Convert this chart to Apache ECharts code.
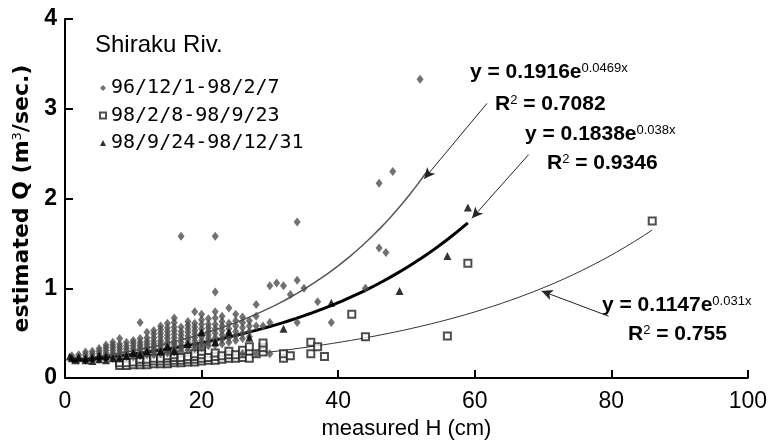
<!DOCTYPE html>
<html>
<head>
<meta charset="utf-8">
<script src="https://cdn.jsdelivr.net/npm/echarts@6/dist/echarts.min.js"></script>
<style>html,body{margin:0;padding:0;background:#fff}#c{width:770px;height:445px}</style>
</head>
<body>
<div id="c"></div>
<script>
// ---- data: [measured H (cm), estimated Q (m3/sec)] ----
const seriesNames = ['96/12/1-98/2/7', '98/2/8-98/9/23', '98/9/24-98/12/31'];
const xTicks = [0, 20, 40, 60, 80, 100];
const yTicks = [0, 1, 2, 3, 4];

const diamondPts = [
  [1,0.22],[1,0.25],[2,0.2],[2,0.23],[2,0.26],[3,0.2],[3,0.23],[3,0.26],[3,0.29],
  [4,0.21],[4,0.24],[4,0.27],[4,0.3],[5,0.21],[5,0.24],[5,0.27],[5,0.3],[5,0.33],
  [6,0.22],[6,0.25],[6,0.28],[6,0.31],[6,0.34],[6,0.37],
  [7,0.22],[7,0.25],[7,0.28],[7,0.31],[7,0.34],[7,0.37],[7,0.4],
  [8,0.23],[8,0.26],[8,0.29],[8,0.32],[8,0.35],[8,0.38],[8,0.44],
  [9,0.24],[9,0.27],[9,0.3],[9,0.33],[9,0.36],[9,0.4],
  [10,0.24],[10,0.27],[10,0.3],[10,0.33],[10,0.36],[10,0.39],[10,0.42],
  [11,0.25],[11,0.28],[11,0.31],[11,0.34],[11,0.37],[11,0.4],[11,0.44],[11,0.62],
  [12,0.26],[12,0.29],[12,0.32],[12,0.35],[12,0.38],[12,0.41],[12,0.45],[12,0.51],
  [13,0.26],[13,0.29],[13,0.32],[13,0.35],[13,0.38],[13,0.41],[13,0.45],[13,0.49],[13,0.53],
  [14,0.27],[14,0.3],[14,0.33],[14,0.36],[14,0.39],[14,0.42],[14,0.46],[14,0.5],[14,0.54],[14,0.58],
  [15,0.28],[15,0.31],[15,0.34],[15,0.37],[15,0.4],[15,0.44],[15,0.48],[15,0.52],[15,0.56],[15,0.61],
  [16,0.29],[16,0.32],[16,0.35],[16,0.38],[16,0.41],[16,0.45],[16,0.49],[16,0.53],[16,0.57],[16,0.62],[16,0.67],
  [17,0.3],[17,0.33],[17,0.36],[17,0.4],[17,0.44],[17,0.48],[17,0.52],[17,0.57],[17,1.58],
  [18,0.31],[18,0.35],[18,0.39],[18,0.43],[18,0.47],[18,0.51],[18,0.55],[18,0.59],[18,0.63],
  [19,0.33],[19,0.37],[19,0.41],[19,0.45],[19,0.49],[19,0.53],[19,0.57],[19,0.61],[19,0.74],
  [20,0.34],[20,0.38],[20,0.42],[20,0.46],[20,0.5],[20,0.55],[20,0.6],[20,0.65],[20,0.71],
  [21,0.36],[21,0.4],[21,0.44],[21,0.48],[21,0.52],[21,0.56],[21,0.6],[21,0.66],
  [22,0.37],[22,0.41],[22,0.45],[22,0.5],[22,0.55],[22,0.6],[22,0.67],[22,0.74],[22,0.96],[22,1.58],
  [23,0.38],[23,0.43],[23,0.48],[23,0.53],[23,0.58],[23,0.63],[23,0.69],
  [24,0.4],[24,0.45],[24,0.5],[24,0.55],[24,0.61],[24,0.78],
  [25,0.42],[25,0.47],[25,0.52],[25,0.58],[25,0.64],[25,0.71],
  [26,0.27],[26,0.44],[26,0.5],[26,0.56],[26,0.62],[26,0.68],
  [27,0.46],[27,0.52],[27,0.58],[27,0.64],
  [28,0.27],[28,0.58],[28,0.69],[28,0.82],[29,0.58],
  [30,0.27],[30,0.62],[30,1.03],[31,1.06],[32,1.03],[33,0.93],
  [34,0.62],[34,1.09],[34,1.74],[35,1.0],[37,0.85],[39,0.62],
  [44,1.0],[46,2.17],[46,1.45],[47,1.4],[48,2.3],[52,3.33]
];

const squarePts = [
  [8,0.14],[8,0.17],[9,0.14],[9,0.17],[10,0.15],[10,0.18],[11,0.15],[11,0.18],[11,0.21],
  [12,0.15],[12,0.18],[12,0.21],[13,0.16],[13,0.19],[13,0.22],[14,0.16],[14,0.19],[14,0.22],
  [15,0.16],[15,0.19],[15,0.22],[15,0.25],[16,0.17],[16,0.2],[16,0.23],[16,0.26],
  [17,0.17],[17,0.2],[17,0.23],[18,0.18],[18,0.21],[18,0.24],
  [19,0.18],[19,0.21],[19,0.24],[19,0.27],[20,0.19],[20,0.22],[20,0.26],[20,0.3],[20,0.35],
  [21,0.2],[21,0.23],[22,0.2],[22,0.24],[22,0.28],[23,0.21],[23,0.25],
  [24,0.22],[24,0.26],[24,0.3],[25,0.22],[25,0.26],[26,0.23],[26,0.27],[26,0.31],
  [27,0.22],[27,0.35],[28,0.27],[29,0.29],[29,0.34],[29,0.39],
  [32,0.22],[32,0.27],[33,0.25],[36,0.27],[36,0.4],[37,0.35],[38,0.24],
  [42,0.71],[44,0.46],[56,0.47],[59,1.28],[86,1.75]
];

const trianglePts = [
  [0.7,0.24],[1,0.22],[1.5,0.2],[2,0.23],[3,0.2],[3,0.22],[4,0.19],[4,0.23],[5,0.21],[5,0.25],
  [6,0.2],[6,0.24],[7,0.22],[8,0.22],[9,0.25],[10,0.28],[11,0.26],[12,0.3],[14,0.3],[15,0.35],
  [16,0.3],[18,0.38],[20,0.51],[22,0.4],[24,0.51],[27,0.45],[32,0.55],[39,0.84],
  [49,0.97],[56,1.36],[59,1.9]
];

// fitted trend lines shown in the chart: y = a * exp(b * x) over [from, to]
const fitA = [0.1916, 0.1147, 0.1838];
const fitB = [0.0469, 0.031, 0.038];
const fitRange = [[1, 53], [8, 86], [1, 59]];
const fitR2 = ['0.7082', '0.755', '0.9346'];

// callout arrows (data coordinates): [fromH, fromQ, toH, toQ]
const arrows = [[61.8, 3.06, 52.6, 2.22], [67.9, 2.49, 59.6, 1.78], [79.6, 0.69, 69.8, 0.97]];

function fitCurve(i) {
  const pts = [];
  const [x0, x1] = fitRange[i];
  const n = 60;
  for (let k = 0; k <= n; k++) {
    const x = x0 + (x1 - x0) * k / n;
    pts.push([x, fitA[i] * Math.exp(fitB[i] * x)]);
  }
  return pts;
}

const FONT = '"Liberation Sans", Arial, sans-serif';
const chart = echarts.init(document.getElementById('c'), null, {renderer: 'canvas'});

const fitStyles = [
  {color: '#555', width: 1.5},
  {color: '#333', width: 1},
  {color: '#000', width: 3}
];

function arrowLine(a) {
  return [[{coord: [a[0], a[1]]}, {coord: [a[2], a[3]]}]];
}

const fitSeries = [0, 1, 2].map(i => ({
  name: 'fit' + i,
  type: 'line',
  data: fitCurve(i),
  showSymbol: false,
  silent: true,
  lineStyle: fitStyles[i],
  z: 1,
  markLine: {
    silent: true,
    symbol: ['none', 'arrow'],
    symbolSize: [8, 11],
    lineStyle: {color: '#222', width: 1, type: 'solid'},
    label: {show: false},
    data: arrowLine(arrows[i])
  }
}));

function eqText(i) {
  return '{b|y = ' + fitA[i] + 'e}{s|' + fitB[i] + 'x}';
}
function r2Text(i) {
  return '{b|R}{s|2}{b| = ' + fitR2[i] + '}';
}
const richEq = {
  b: {fontFamily: FONT, fontSize: 21, fontWeight: 'bold', fill: '#000', color: '#000'},
  s: {fontFamily: FONT, fontSize: 13, color: '#000', verticalAlign: 'top'}
};
function label(x, y, t) {
  return {type: 'text', left: x, top: y, style: {text: t, rich: richEq, fill: '#000'}};
}

chart.setOption({
  animation: false,
  backgroundColor: '#fff',
  grid: {left: 65, right: 20, top: 19, bottom: 60, containLabel: false},
  title: {
    text: 'Shiraku Riv.', left: 90, top: 28,
    textStyle: {fontFamily: FONT, fontSize: 24, fontWeight: 'normal', color: '#000'}
  },
  legend: {
    data: seriesNames,
    orient: 'vertical', left: 94, top: 73,
    itemWidth: 6, itemHeight: 6, itemGap: 7.5,
    textStyle: {fontFamily: '"DejaVu Sans Mono", "Liberation Mono", monospace', fontSize: 20, lineHeight: 20, color: '#000'}
  },
  xAxis: {
    type: 'value', min: 0, max: 100, interval: 20,
    name: 'measured H (cm)', nameLocation: 'middle', nameGap: 35,
    nameTextStyle: {fontFamily: FONT, fontSize: 22, color: '#000'},
    axisLine: {show: true, onZero: false, lineStyle: {color: '#000', width: 2}},
    axisTick: {show: true, inside: true, length: 8, lineStyle: {color: '#000', width: 2}},
    axisLabel: {fontFamily: FONT, fontSize: 23, color: '#000', margin: 12,
      formatter: v => xTicks.includes(v) ? String(v) : ''},
    splitLine: {show: false}
  },
  yAxis: {
    type: 'value', min: 0, max: 4, interval: 1,
    name: '{t|estimated Q (m}{s|3}{t|/sec.)}', nameLocation: 'middle', nameGap: 26,
    nameTextStyle: {color: '#000', rich: {
      t: {fontFamily: '"DejaVu Sans", sans-serif', fontSize: 22, fontWeight: 'bold', color: '#000'},
      s: {fontFamily: '"DejaVu Sans", sans-serif', fontSize: 13, color: '#000', verticalAlign: 'top'}
    }},
    axisLine: {show: true, onZero: false, lineStyle: {color: '#000', width: 2}},
    axisTick: {show: true, inside: true, length: 8, lineStyle: {color: '#000', width: 2}},
    axisLabel: {fontFamily: FONT, fontSize: 23, fontWeight: 'bold', color: '#000', margin: 8,
      formatter: v => yTicks.includes(v) ? String(v) : ''},
    splitLine: {show: false}
  },
  series: [
    {
      name: seriesNames[0], type: 'scatter', data: diamondPts,
      symbol: 'diamond', symbolSize: [7, 9],
      itemStyle: {color: '#4d4d4d'}, z: 3
    },
    {
      name: seriesNames[1], type: 'scatter', data: squarePts,
      symbol: 'emptyRect', symbolSize: 7,
      itemStyle: {color: '#222', borderWidth: 1}, z: 2
    },
    {
      name: seriesNames[2], type: 'scatter', data: trianglePts,
      symbol: 'triangle', symbolSize: 8,
      itemStyle: {color: '#000'}, z: 4
    }
  ].concat(fitSeries),
  graphic: [
    label(470, 62, eqText(0)),
    label(495, 94, r2Text(0)),
    label(525, 124, eqText(2)),
    label(547, 153, r2Text(2)),
    label(602, 295, eqText(1)),
    label(628, 324, r2Text(1))
  ]
});
</script>
</body>
</html>
